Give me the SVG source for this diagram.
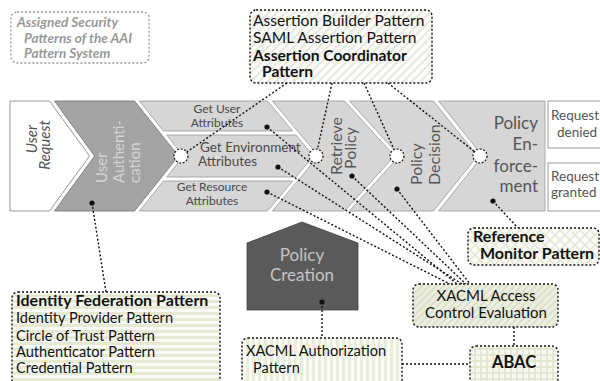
<svg xmlns="http://www.w3.org/2000/svg" width="600" height="381" viewBox="0 0 600 381">
<defs>
<style>
.t{font-family:Lato,"Open Sans","Liberation Sans",sans-serif;}
.chev{fill:#d6d6d6;stroke:#9a9a9a;stroke-width:0.8;}
.bandtxt{font-size:12px;fill:#4a4a4a;}
.big{font-size:16px;fill:#555;}
.box{stroke:#111;stroke-width:1.4;stroke-dasharray:2 2;}
.con{fill:none;stroke:#111;stroke-width:1.4;stroke-dasharray:2 2;}
.dot{fill:#111;}
.circ{fill:#fff;stroke:#111;stroke-width:1.2;stroke-dasharray:2 1.6;}
.lbl{font-size:14.6px;fill:#111;}
.b{font-weight:bold;}
</style>
<pattern id="pDiag" width="6" height="6" patternUnits="userSpaceOnUse" patternTransform="rotate(45)">
<rect width="6" height="6" fill="#fbfbf8"/><rect width="1.6" height="6" fill="#e3e3dd"/>
</pattern>
<pattern id="pDiagG" width="5" height="5" patternUnits="userSpaceOnUse" patternTransform="rotate(45)">
<rect width="5" height="5" fill="#eceedf"/><rect width="1.5" height="5" fill="#d9dcc6"/>
</pattern>
<pattern id="pH" width="6" height="6" patternUnits="userSpaceOnUse">
<rect width="6" height="6" fill="#fbfcf7"/><rect width="6" height="3" fill="#e6ead5"/>
</pattern>
<pattern id="pV" width="6" height="6" patternUnits="userSpaceOnUse">
<rect width="6" height="6" fill="#fbfcf7"/><rect width="3" height="6" fill="#eaeddb"/>
</pattern>
<pattern id="pGrid" width="6" height="6" patternUnits="userSpaceOnUse">
<rect width="6" height="6" fill="#f7f9f0"/><rect width="2" height="6" fill="#e4e8d2"/><rect width="6" height="2" fill="#e4e8d2"/>
</pattern>
<pattern id="pX" width="10" height="10" patternUnits="userSpaceOnUse">
<rect width="10" height="10" fill="#fbfcf7"/><path d="M0,0L10,10M10,0L0,10" stroke="#e4e8d4" stroke-width="1.5"/>
</pattern>
</defs>
<rect width="600" height="381" fill="#fff"/>

<g id="legend">
<rect x="11" y="12" width="138" height="51" rx="6" fill="#fff" stroke="#999" stroke-width="1.3" stroke-dasharray="2 2"/>
<text class="t b" font-style="italic" font-size="13.6" fill="#999"><tspan x="17" y="27">Assigned Security</tspan><tspan x="24" y="43">Patterns of the AAI</tspan><tspan x="24" y="58">Pattern System</tspan></text>
</g>

<g id="user-request">
<polygon points="10,101 49.5,101 89.5,156 49.5,211 10,211" fill="#fff" stroke="#8a8a8a" stroke-width="0.9"/>
<text class="t" font-size="15" font-style="italic" fill="#555" text-anchor="middle" transform="translate(37,139) rotate(-90)">User</text>
<text class="t" font-size="15" font-style="italic" fill="#555" text-anchor="middle" transform="translate(50,145) rotate(-90)">Request</text>
</g>

<g id="user-authentication">
<polygon points="54.5,101 134.5,101 178.5,156 134.5,211 54.5,211 94.5,156" fill="#a4a4a4" stroke="#7a7a7a" stroke-width="0.9"/>
<text class="t" font-size="15" fill="#d4d4d4" transform="translate(107,183) rotate(-90)">User</text>
<text class="t" font-size="15" fill="#d4d4d4" transform="translate(124,183) rotate(-90)">Authenti-</text>
<text class="t" font-size="15" fill="#d4d4d4" transform="translate(140,183) rotate(-90)">cation</text>
</g>

<g id="get-user-attributes">
<polygon class="chev" points="139.5,101 267.5,101 292.6,131 163.5,131"/>
<text class="t bandtxt" text-anchor="middle"><tspan x="217" y="113">Get User</tspan><tspan x="217" y="127">Attributes</tspan></text>
</g>
<g id="get-environment-attributes">
<polygon class="chev" points="166.7,135 295.9,135 313.5,156 295.9,177 166.7,177 183.5,156"/>
<text class="t" font-size="13.5" fill="#4a4a4a"><tspan x="200" y="152">Get Environment</tspan><tspan x="198" y="166">Attributes</tspan></text>
</g>
<g id="get-resource-attributes">
<polygon class="chev" points="163.5,181 292.6,181 267.5,211 139.5,211"/>
<text class="t bandtxt" text-anchor="middle"><tspan x="212" y="191">Get Resource</tspan><tspan x="212" y="205">Attributes</tspan></text>
</g>

<g id="retrieve-policy">
<polygon class="chev" points="272.5,101 344.5,101 394.5,156 344.5,211 272.5,211 318.5,156"/>
<text class="t big" text-anchor="middle" transform="translate(342,146) rotate(-90)">Retrieve</text>
<text class="t big" text-anchor="middle" transform="translate(356,148) rotate(-90)">Policy</text>
</g>

<g id="policy-decision">
<polygon class="chev" points="349.5,101 433.5,101 477.5,156 433.5,211 349.5,211 399.5,156"/>
<text class="t big" transform="translate(422,185) rotate(-90)">Policy</text>
<text class="t big" transform="translate(440,185) rotate(-90)">Decision</text>
</g>

<g id="policy-enforcement">
<polygon class="chev" points="438.5,101 545,101 545,211 438.5,211 482.5,156"/>
<text class="t" font-size="17" fill="#555" text-anchor="end"><tspan x="538" y="129">Policy</tspan><tspan x="538" y="150">En-</tspan><tspan x="538" y="172">force-</tspan><tspan x="538" y="192">ment</tspan></text>
</g>

<g id="request-denied">
<rect x="548" y="101" width="60" height="47" fill="#fff" stroke="#999" stroke-width="1"/>
<text class="t" font-size="13.5" fill="#555"><tspan x="551" y="120">Request</tspan><tspan x="557" y="137">denied</tspan></text>
</g>
<g id="request-granted">
<rect x="548" y="163" width="60" height="48" fill="#fff" stroke="#999" stroke-width="1"/>
<text class="t" font-size="13.5" fill="#555"><tspan x="551" y="181">Request</tspan><tspan x="551" y="197">granted</tspan></text>
</g>

<g id="policy-creation">
<polygon points="247,243 302,222 358,243 358,310 247,310" fill="#5a5a5a" stroke="#444" stroke-width="0.8"/>
<text class="t" font-size="17" fill="#c4c4c4" text-anchor="middle"><tspan x="302" y="261">Policy</tspan><tspan x="302" y="281">Creation</tspan></text>
</g>

<g id="connectors">
<line class="con" x1="287" y1="83" x2="181" y2="156"/>
<line class="con" x1="332" y1="83" x2="316" y2="156"/>
<line class="con" x1="364" y1="83" x2="397" y2="156"/>
<line class="con" x1="388" y1="83" x2="480" y2="156"/>
<line class="con" x1="92" y1="203" x2="106" y2="292"/>
<line class="con" x1="267" y1="127" x2="457" y2="284"/>
<line class="con" x1="278" y1="167" x2="462" y2="284"/>
<line class="con" x1="267" y1="192" x2="450" y2="284"/>
<line class="con" x1="352" y1="176" x2="466" y2="284"/>
<line class="con" x1="397" y1="189" x2="470" y2="284"/>
<line class="con" x1="493" y1="201" x2="518" y2="228"/>
<line class="con" x1="322" y1="302" x2="322" y2="338"/>
<line class="con" x1="514" y1="327" x2="514" y2="346"/>
<line class="con" x1="402" y1="364" x2="470" y2="364"/>
</g>

<g id="anchors">
<circle class="circ" cx="181" cy="156" r="7"/>
<circle class="circ" cx="316" cy="156" r="7"/>
<circle class="circ" cx="397" cy="156" r="7"/>
<circle class="circ" cx="480" cy="156" r="7"/>
<circle class="dot" cx="92" cy="203" r="2.6"/>
<circle class="dot" cx="267" cy="127" r="2.6"/>
<circle class="dot" cx="278" cy="167" r="2.6"/>
<circle class="dot" cx="267" cy="192" r="2.6"/>
<circle class="dot" cx="352" cy="176" r="2.6"/>
<circle class="dot" cx="397" cy="189" r="2.6"/>
<circle class="dot" cx="493" cy="201" r="2.6"/>
<circle class="dot" cx="322" cy="302" r="2.6"/>
</g>

<g id="assertion-patterns">
<rect class="box" x="250" y="10" width="182" height="73" rx="6" fill="url(#pDiag)"/>
<text class="t" font-size="15.6" fill="#111"><tspan x="253" y="26">Assertion Builder Pattern</tspan><tspan x="253" y="43">SAML Assertion Pattern</tspan><tspan x="253" y="61" class="b">Assertion Coordinator</tspan><tspan x="262" y="77" class="b">Pattern</tspan></text>
</g>

<g id="identity-federation">
<rect class="box" x="12" y="292" width="208" height="100" rx="6" fill="url(#pH)"/>
<text class="t lbl"><tspan x="16" y="306" class="b" font-size="16">Identity Federation Pattern</tspan><tspan x="16" y="323">Identity Provider Pattern</tspan><tspan x="16" y="341">Circle of Trust Pattern</tspan><tspan x="16" y="357">Authenticator Pattern</tspan><tspan x="16" y="373">Credential Pattern</tspan></text>
</g>

<g id="reference-monitor">
<rect class="box" x="468" y="228" width="131" height="37" rx="6" fill="url(#pX)"/>
<text class="t b" font-size="16" fill="#111"><tspan x="473" y="242">Reference</tspan><tspan x="480" y="259">Monitor Pattern</tspan></text>
</g>

<g id="xacml-access">
<rect class="box" x="413" y="284" width="145" height="43" rx="6" fill="url(#pDiagG)"/>
<text class="t" font-size="15" fill="#111" text-anchor="middle"><tspan x="486" y="301">XACML Access</tspan><tspan x="486" y="318">Control Evaluation</tspan></text>
</g>

<g id="xacml-authorization">
<rect class="box" x="242" y="338" width="160" height="60" rx="6" fill="url(#pV)"/>
<text class="t lbl"><tspan x="246" y="356">XACML Authorization</tspan><tspan x="253" y="373">Pattern</tspan></text>
</g>

<g id="abac">
<rect class="box" x="470" y="346" width="88" height="50" rx="6" fill="url(#pGrid)"/>
<text class="t b" font-size="16.5" fill="#111" text-anchor="middle" x="514" y="368">ABAC</text>
</g>
</svg>
